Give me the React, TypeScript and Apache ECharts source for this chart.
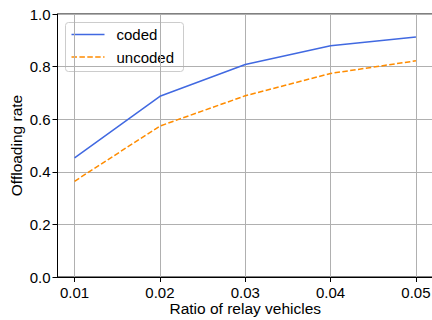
import React, { useEffect, useRef } from "react";
import * as echarts from "echarts";

const ratios = [0.01, 0.02, 0.03, 0.04, 0.05];
const coded = [0.453, 0.687, 0.808, 0.879, 0.913];
const uncoded = [0.364, 0.574, 0.689, 0.774, 0.822];
const yTicks = [0, 0.2, 0.4, 0.6, 0.8, 1.0];
const seriesNames = ["coded", "uncoded"];

const FONT = "'Liberation Sans', Arial, sans-serif";
const BLUE = "#4169E1";
const ORANGE = "#FF8C00";
const DASH = [5.5, 2.4];

export default function App() {
  const ref = useRef<HTMLDivElement>(null);
  useEffect(() => {
    if (!ref.current) return;
    const chart = echarts.init(ref.current, undefined, { renderer: "svg" });
    chart.setOption({
      animation: false,
      textStyle: { fontFamily: FONT },
      grid: {
        left: 57.5,
        right: -1,
        top: 14,
        bottom: 43,
        containLabel: false,
        outerBoundsMode: "none",
        show: true,
        borderColor: "#000",
        borderWidth: 1,
        backgroundColor: "transparent",
      },
      graphic: [
        {
          type: "group",
          left: 65,
          top: 22,
          z: 100,
          children: [
            {
              type: "rect",
              shape: { x: 0, y: 0, width: 118, height: 49, r: 3 },
              style: { fill: "rgba(255,255,255,0.8)", stroke: "#cccccc", lineWidth: 1 },
            },
            {
              type: "line",
              shape: { x1: 6, y1: 12, x2: 39, y2: 12 },
              style: { stroke: BLUE, lineWidth: 1.5 },
            },
            {
              type: "text",
              x: 51,
              y: 12,
              style: {
                text: seriesNames[0],
                fontSize: 15,
                fontFamily: FONT,
                fill: "#000",
                verticalAlign: "middle",
              },
            },
            {
              type: "line",
              shape: { x1: 6, y1: 34.5, x2: 39, y2: 34.5 },
              style: { stroke: ORANGE, lineWidth: 1.5, lineDash: DASH },
            },
            {
              type: "text",
              x: 51,
              y: 34.5,
              style: {
                text: seriesNames[1],
                fontSize: 15,
                fontFamily: FONT,
                fill: "#000",
                verticalAlign: "middle",
              },
            },
          ],
        },
      ],
      xAxis: {
        type: "value",
        min: 0.008,
        max: 0.052,
        name: "Ratio of relay vehicles",
        nameLocation: "middle",
        nameGap: 23,
        nameMoveOverlap: false,
        nameTextStyle: { fontSize: 15.5, color: "#000", fontFamily: FONT },
        axisLine: { lineStyle: { color: "#000", width: 1 } },
        axisTick: { show: true, length: 5, lineStyle: { color: "#000" }, customValues: ratios },
        axisLabel: {
          fontSize: 15,
          color: "#000",
          margin: 8,
          customValues: ratios,
          formatter: (v: number) => v.toFixed(2),
        },
        splitLine: { show: true, lineStyle: { color: "#b0b0b0", width: 1 } },
      },
      yAxis: {
        type: "value",
        min: 0,
        max: 1,
        interval: 0.2,
        name: "Offloading rate",
        nameLocation: "middle",
        nameGap: 33,
        nameMoveOverlap: false,
        nameTextStyle: { fontSize: 15.5, color: "#000", fontFamily: FONT },
        axisLine: { show: true, lineStyle: { color: "#000", width: 1 } },
        axisTick: { show: true, length: 5, lineStyle: { color: "#000" } },
        axisLabel: {
          fontSize: 15,
          color: "#000",
          margin: 7,
          customValues: yTicks,
          formatter: (v: number) => v.toFixed(1),
        },
        splitLine: { show: true, lineStyle: { color: "#b0b0b0", width: 1 } },
      },
      series: [
        {
          name: seriesNames[0],
          type: "line",
          data: ratios.map((x, i) => [x, coded[i]]),
          symbol: "none",
          lineStyle: { color: BLUE, width: 1.5 },
          itemStyle: { color: BLUE },
        },
        {
          name: seriesNames[1],
          type: "line",
          data: ratios.map((x, i) => [x, uncoded[i]]),
          symbol: "none",
          lineStyle: { color: ORANGE, width: 1.5, type: DASH },
          itemStyle: { color: ORANGE },
        },
      ],
    });
    return () => chart.dispose();
  }, []);
  return (
    <div
      ref={ref}
      style={{ position: "absolute", left: 0, top: 0, width: 432, height: 320 }}
    />
  );
}
